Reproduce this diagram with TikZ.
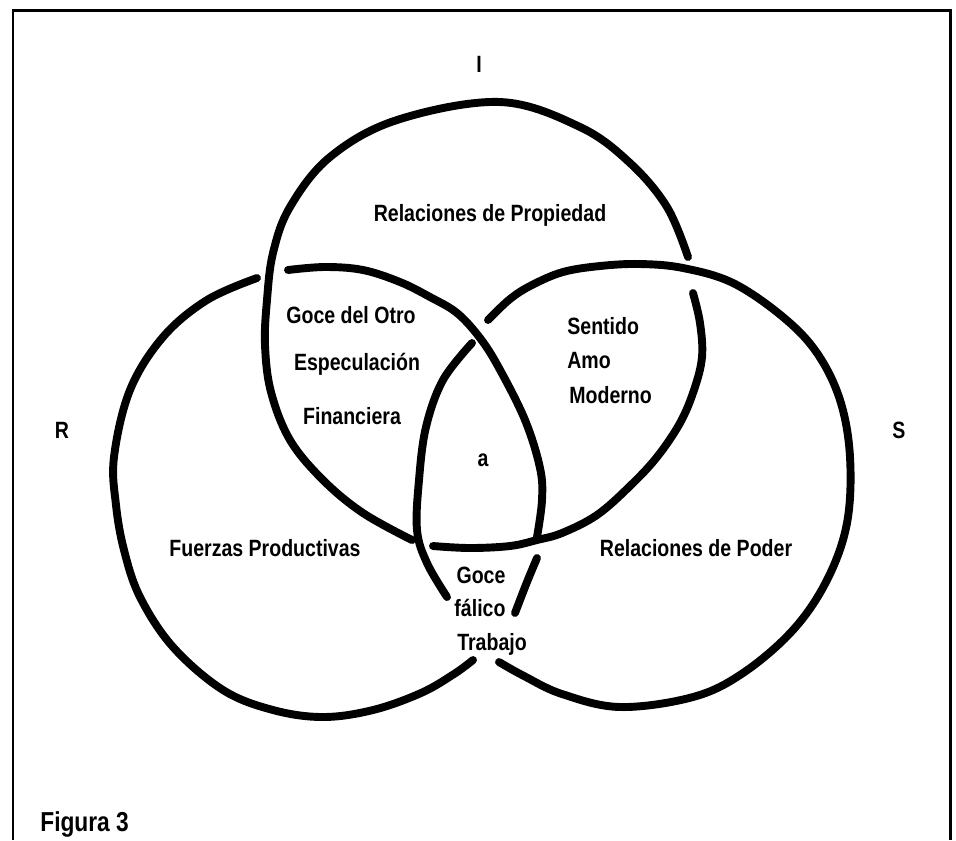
\documentclass[tikz,border=0pt]{standalone}
\usepackage{fontspec}
\newfontfamily\lblfont{Liberation Sans}[FakeStretch=0.83]
\begin{document}
\begin{tikzpicture}[x=0.02cm,y=-0.02cm,
  ring/.style={line width=4.5pt, line cap=round, line join=round},
  frame/.style={line width=1.7pt},
  lbl/.style={font=\lblfont\bfseries\fontsize{13.4}{15}\selectfont,
    inner sep=0pt, text height=0.72em, text depth=0pt},
  title/.style={font=\lblfont\bfseries\fontsize{15.6}{18}\selectfont,
    inner sep=0pt, text height=0.72em, text depth=0pt},
]
\useasboundingbox (0,0) rectangle (956,840);

% open frame
\draw[frame] (13,840) -- (13,10) -- (950,10) -- (950,840);

% ring I (top)
\draw[ring] plot[smooth, tension=0.6] coordinates {
  (688,257) (667,207) (630,163) (580,127) (500,102) (397,120) (330,157)
  (290,207) (273,253) (267,300) (265,345) (271,392) (290,440) (323,480)
  (363,513) (412,540)};
\draw[ring] plot[smooth, tension=0.6] coordinates {
  (433,546) (470,548) (510,546) (537,540) (562,533) (597,515) (630,486)
  (657,457) (680,423) (694,390) (702,357) (700,323) (693,293)};

% ring S (right)
\draw[ring] plot[smooth, tension=0.6] coordinates {
  (488,320) (510,299) (532,285) (563,272) (600,266) (640,264) (683,268)
  (733,283) (783,317) (817,353) (840,400) (850,457) (847,523) (827,580)
  (793,630) (743,673) (693,697) (620,707) (562,694) (524,676) (499,662)};
\draw[ring] plot[smooth, tension=0.6] coordinates {
  (472,343) (443,380) (426,427) (419,480) (417,530) (427,563) (447,597)};

% ring R (left)
\draw[ring] plot[smooth, tension=0.6] coordinates {
  (257,278) (207,300) (163,337) (130,390) (114,457) (116,505) (124,550)
  (140,597) (173,647) (223,690) (273,710) (323,717) (373,710) (421,693)
  (454,674) (473,660)};
\draw[ring] plot[smooth, tension=0.6] coordinates {
  (515,613) (527,582) (537,558)};
\draw[ring] plot[smooth, tension=0.6] coordinates {
  (537,537) (542,500) (540,468) (525,420) (499,368) (480,338) (457,313)
  (430,297) (400,282) (363,270) (325,267) (288,270)};

% ring names
\node[lbl] (nI) at (479,66) {I};
\node[lbl] (nR) at (62,432) {R};
\node[lbl] (nS) at (899,432) {S};

% single regions
\node[lbl] (prop) at (490,215) {Relaciones de Propiedad};
\node[lbl] (fuer) at (265,550) {Fuerzas Productivas};
\node[lbl] (pod)  at (696,550) {Relaciones de Poder};

% I and R
\node[lbl] (go1) at (351,317) {Goce del Otro};
\node[lbl] (esp) at (357,364) {Especulación};
\node[lbl] (fin) at (352,418) {Financiera};

% I and S
\node[lbl, anchor=west] (sen) at (567,328) {Sentido};
\node[lbl, anchor=west] (amo) at (567,362) {Amo};
\node[lbl, anchor=west] (mod) at (569,397) {Moderno};

% centre
\node[lbl] (obj) at (483,460) {a};

% R and S
\node[lbl] (go2) at (481,577) {Goce};
\node[lbl] (fal) at (480,610) {fálico};
\node[lbl] (tra) at (492,644) {Trabajo};

\node[title, anchor=west] (fig) at (40,825) {Figura 3};
\end{tikzpicture}
\end{document}
